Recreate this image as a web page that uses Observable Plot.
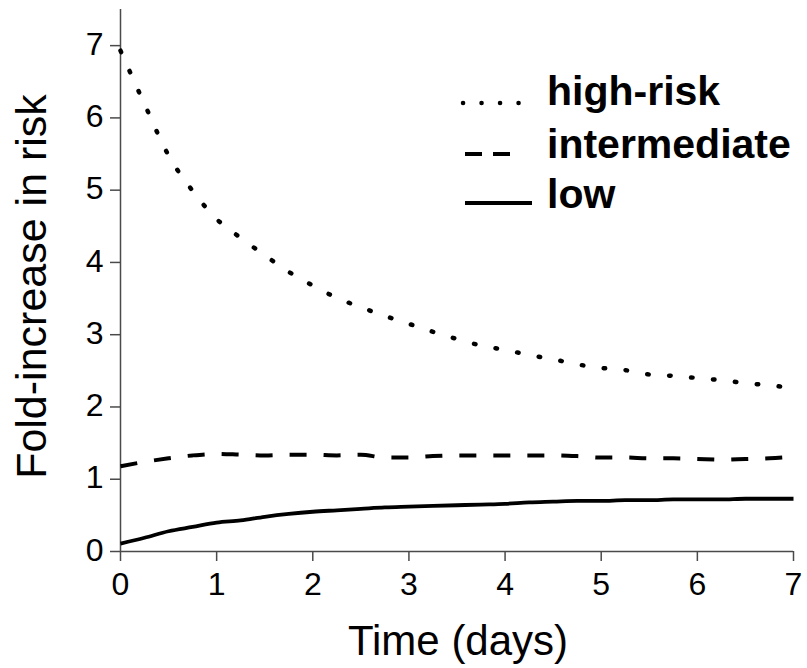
<!DOCTYPE html>
<html><head><meta charset="utf-8">
<script src="https://cdn.jsdelivr.net/npm/d3@7"></script>
<script src="https://cdn.jsdelivr.net/npm/@observablehq/plot@0.6"></script>
<style>
html,body{margin:0;padding:0;background:#fff;}
#wrap{position:relative;width:807px;height:668px;}
#wrap svg{display:block;}
#legend{position:absolute;left:0;top:0;}
</style></head><body><div id="wrap"></div>
<script>
// ---- data ----
const days = [0,0.25,0.5,0.75,1,1.25,1.5,1.75,2,2.25,2.5,2.75,3,3.25,3.5,3.75,4,4.25,4.5,4.75,5,5.25,5.5,5.75,6,6.25,6.5,6.75,7];
const highRisk = [6.93,6.19,5.48,4.99,4.60,4.34,4.10,3.87,3.68,3.51,3.38,3.26,3.15,3.04,2.94,2.85,2.79,2.72,2.66,2.59,2.54,2.51,2.45,2.43,2.40,2.37,2.33,2.30,2.26];
const intermediate = [1.18,1.24,1.29,1.33,1.35,1.34,1.33,1.34,1.34,1.33,1.34,1.30,1.30,1.32,1.33,1.33,1.33,1.33,1.33,1.32,1.30,1.30,1.29,1.29,1.28,1.27,1.28,1.29,1.31];
const low = [0.11,0.19,0.28,0.34,0.40,0.43,0.48,0.52,0.55,0.57,0.59,0.61,0.62,0.63,0.64,0.65,0.66,0.68,0.69,0.70,0.70,0.71,0.71,0.72,0.72,0.72,0.73,0.73,0.73];
const seriesNames = ["high-risk","intermediate","low"];
const xTicks = [0,1,2,3,4,5,6,7];
const yTicks = [0,1,2,3,4,5,6,7];
const xLabel = "Time (days)";
const yLabel = "Fold-increase in risk";

// ---- build ----
const toRows = (name, arr) => days.map((d, i) => ({day: d, value: arr[i], series: name}));
const font = '"Liberation Sans", Arial, Helvetica, sans-serif';
const axisColor = "#4a4a4a";
const styles = {
  "high-risk": {strokeWidth: 4.5, strokeDasharray: "1.5,20.5", strokeLinecap: "round"},
  "intermediate": {strokeWidth: 4, strokeDasharray: "17,17", strokeLinecap: "butt"},
  "low": {strokeWidth: 3.8, strokeDasharray: null, strokeLinecap: "butt"}
};
const seriesData = [highRisk, intermediate, low];

const lineMarks = seriesNames.map((name, k) =>
  Plot.lineY(toRows(name, seriesData[k]), {
    x: "day", y: "value", curve: "monotone-x", stroke: "black",
    strokeWidth: styles[name].strokeWidth,
    strokeDasharray: styles[name].strokeDasharray || undefined,
    strokeLinecap: styles[name].strokeLinecap
  })
);

const chart = Plot.plot({
  width: 807, height: 668,
  marginLeft: 120, marginRight: 14, marginTop: 9, marginBottom: 117,
  style: {fontFamily: font, background: "white", color: "black", overflow: "visible"},
  x: {domain: [0, 7]},
  y: {domain: [0, 7.5]},
  marks: [
    Plot.axisX(xTicks, {tickSize: 10, tickFormat: () => "", stroke: axisColor, strokeWidth: 1.5, label: null}),
    Plot.axisY(yTicks, {tickSize: 10, tickFormat: () => "", stroke: axisColor, strokeWidth: 1.5, label: null}),
    Plot.text(xTicks, {x: d => d, text: d => String(d), frameAnchor: "bottom", lineAnchor: "top", dy: 21, fontSize: 32, fill: "black"}),
    Plot.text(yTicks, {y: d => d, text: d => String(d), frameAnchor: "left", textAnchor: "end", lineAnchor: "middle", dx: -17, dy: -1, fontSize: 32, fill: "black"}),
    Plot.ruleY([0], {stroke: axisColor, strokeWidth: 1.5}),
    Plot.ruleX([0], {stroke: axisColor, strokeWidth: 1.5}),
    ...lineMarks,
    Plot.text([yLabel], {frameAnchor: "left", rotate: -90, dx: -88, dy: 6, fontSize: 43, textAnchor: "middle", lineAnchor: "middle", fill: "black"}),
    Plot.text([xLabel], {frameAnchor: "bottom", dy: 90, dx: 1, fontSize: 42, textAnchor: "middle", lineAnchor: "middle", fill: "black"})
  ]
});
const wrap = document.getElementById("wrap");
wrap.appendChild(chart);

// ---- legend overlay ----
const leg = d3.select(wrap).append("svg").attr("id", "legend").attr("width", 807).attr("height", 668);
const legRows = [
  {name: "high-risk", x1: 463, x2: 520, ly: 103, ty: 105, dash: "0.1,18.4", cap: "round", w: 4.5},
  {name: "intermediate", x1: 465, x2: 510, ly: 154, ty: 158, dash: "17,11", cap: "butt", w: 4},
  {name: "low", x1: 465, x2: 532, ly: 203, ty: 208, dash: null, cap: "butt", w: 4}
];
legRows.forEach(r => {
  const l = leg.append("line").attr("x1", r.x1).attr("x2", r.x2).attr("y1", r.ly).attr("y2", r.ly)
    .attr("stroke", "black").attr("stroke-width", r.w).attr("stroke-linecap", r.cap);
  if (r.dash) l.attr("stroke-dasharray", r.dash);
  leg.append("text").attr("x", 547).attr("y", r.ty).text(r.name)
    .attr("font-family", font).attr("font-weight", "bold").attr("font-size", 41).attr("fill", "black");
});
</script>
</body></html>
